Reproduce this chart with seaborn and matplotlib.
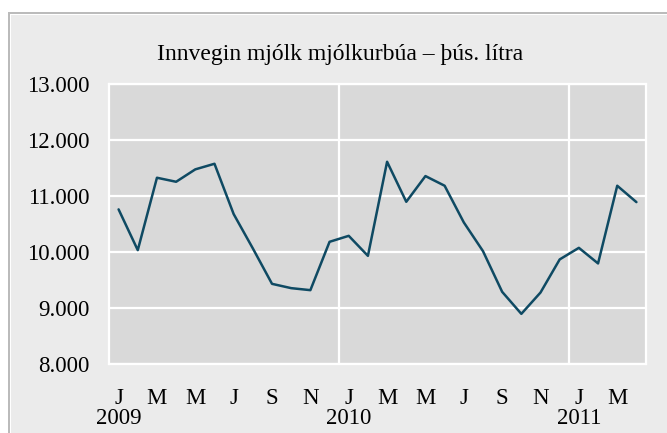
"""
Innvegin mjólk mjólkurbúa, monthly, Jan 2009 - Apr 2011.
"""
import seaborn as sns
import matplotlib.pyplot as plt
import matplotlib.ticker as mticker
from matplotlib.patches import Rectangle
import pandas as pd

# Data (þús. lítra)
months = ['J', 'F', 'M', 'A', 'M', 'J', 'J', 'Á', 'S', 'O', 'N', 'D'] * 2 + ['J', 'F', 'M', 'A']
years = [2009] * 12 + [2010] * 12 + [2011] * 4
milk = [10757, 10028, 11323, 11251, 11473, 11573, 10673, 10059, 9425, 9348, 9312, 10177,
        10284, 9926, 11609, 10893, 11353, 11180, 10524, 10010, 9282, 8888, 9270, 9862,
        10069, 9790, 11180, 10887]
y_ticks = [8000, 9000, 10000, 11000, 12000, 13000]

df = pd.DataFrame({'idx': range(len(milk)), 'month': months, 'year': years, 'milk': milk})

sns.set_style('white', {
    'axes.facecolor': '#d9d9d9',
    'axes.edgecolor': 'white',
    'grid.color': 'white',
    'text.color': 'black',
})
plt.rcParams['font.family'] = ['Liberation Serif', 'DejaVu Serif']

W, H = 667, 433
fig = plt.figure(figsize=(W / 100, H / 100), dpi=100)
fig.patch.set_facecolor('white')

# framed background panel (grey border, thin white gap, light grey fill)
fig.patches.append(Rectangle((8 / W, -0.1), 1.2, 1.1 - 12 / H, transform=fig.transFigure,
                             facecolor='#bbbbbb', edgecolor='none', zorder=-3))
fig.patches.append(Rectangle((10 / W, -0.1), 1.2, 1.1 - 14 / H, transform=fig.transFigure,
                             facecolor='white', edgecolor='none', zorder=-2))
fig.patches.append(Rectangle((11 / W, -0.1), 1.2, 1.1 - 15 / H, transform=fig.transFigure,
                             facecolor='#ebebeb', edgecolor='none', zorder=-1))

ax = fig.add_axes([109 / W, 1 - 363.5 / H, (646 - 109) / W, (363.5 - 84) / H])

sns.lineplot(data=df, x='idx', y='milk', color='#0f4a63', linewidth=1.8, ax=ax)

ax.set_xlim(-0.5, len(milk) - 0.5)
ax.set_ylim(8000, 13000)
ax.set_yticks(y_ticks)
ax.yaxis.set_major_formatter(mticker.FuncFormatter(lambda v, p: f'{v:,.0f}'.replace(',', '.')))

# month letters every second month, year under each January
tick_pos = df['idx'][::2].tolist()
tick_lab = [m + ('\n' + str(y) if m == 'J' and i % 12 == 0 else '')
            for i, m, y in zip(df['idx'][::2], df['month'][::2], df['year'][::2])]
ax.set_xticks(tick_pos)
ax.set_xticklabels(tick_lab)
for t in ax.get_xticklabels():
    t.set_linespacing(0.88)
    t.set_verticalalignment('top')

# vertical gridlines at year boundaries
ax.set_xticks([11.5, 23.5], minor=True)
ax.grid(True, axis='y', which='major', color='white', linewidth=1.6)
ax.grid(True, axis='x', which='minor', color='white', linewidth=1.6)
ax.grid(False, axis='x', which='major')

ax.tick_params(axis='both', which='both', length=0, labelsize=16.5, colors='black')
ax.tick_params(axis='x', pad=18)
ax.tick_params(axis='y', pad=14)
for s in ax.spines.values():
    s.set_color('white')
    s.set_linewidth(1.6)

ax.set_xlabel('')
ax.set_ylabel('')

fig.text(340 / W, 1 - 60 / H, 'Innvegin mjólk mjólkurbúa – þús. lítra',
         ha='center', va='baseline', fontsize=17, color='black')

fig.savefig('out.png', dpi=100)
